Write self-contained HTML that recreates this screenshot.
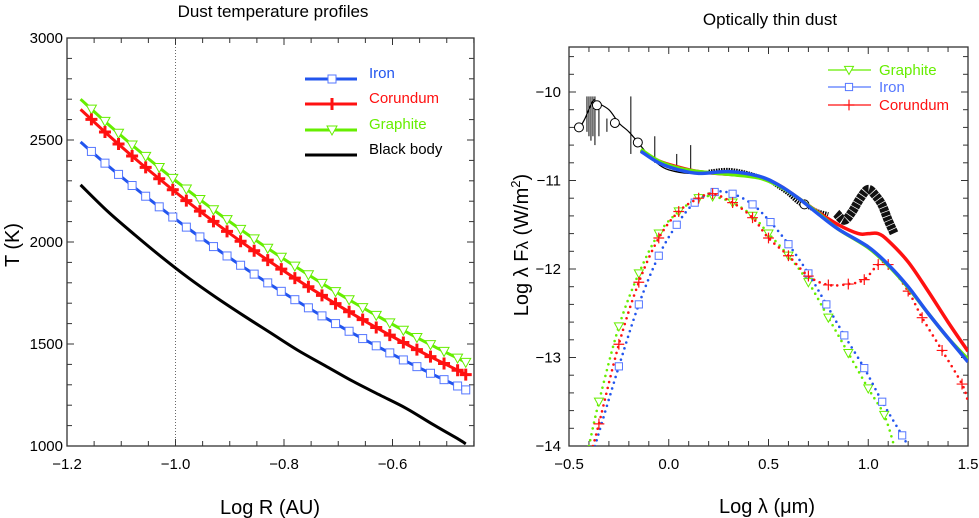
<!DOCTYPE html>
<html><head><meta charset="utf-8">
<style>
body{margin:0;background:#fff;}
svg{display:block;font-family:"Liberation Sans",Arial,sans-serif;}
</style></head>
<body>
<svg id="c" width="979" height="518" viewBox="0 0 979 518" xmlns="http://www.w3.org/2000/svg">
<text x="273" y="17" text-anchor="middle" font-size="17">Dust temperature profiles</text>
<text x="770" y="25" text-anchor="middle" font-size="17">Optically thin dust</text>
<text x="270" y="514" text-anchor="middle" font-size="20">Log R (AU)</text>
<text transform="translate(19,245) rotate(-90)" text-anchor="middle" font-size="20">T (K)</text>
<text x="767" y="513" text-anchor="middle" font-size="20">Log λ (μm)</text>
<text transform="translate(528,245) rotate(-90)" text-anchor="middle" font-size="20">Log λ F<tspan font-size="17">λ</tspan> (W/m<tspan dy="-8" font-size="13">2</tspan><tspan dy="8">)</tspan></text>
<g id="L"></g>
<g id="R"></g>
</svg>
<script>
// ---------- LEFT CHART DATA ----------
const logR = [-1.175,-1.125,-1.075,-1.025,-0.975,-0.925,-0.875,-0.825,-0.775,-0.725,-0.675,-0.625,-0.575,-0.525,-0.475,-0.465];
const tIron = [2490,2375,2266,2162,2063,1968,1877,1791,1709,1630,1555,1484,1415,1350,1288,1275];
const tCorundum = [2650,2527,2410,2299,2192,2091,1994,1902,1814,1730,1650,1573,1500,1431,1365,1350];
const tGraphite = [2700,2579,2464,2354,2249,2148,2052,1960,1873,1789,1709,1633,1560,1490,1424,1410];
const tBlack = [2280,2150,2035,1925,1822,1728,1640,1555,1470,1395,1320,1252,1185,1105,1028,1010];
const leftXTicks = [-1.2,-1.0,-0.8,-0.6];
const leftXTickLabels = ["−1.2","−1.0","−0.8","−0.6"];
const leftYTicks = [1000,1500,2000,2500,3000];
const leftYTickLabels = ["1000","1500","2000","2500","3000"];

// ---------- RIGHT CHART DATA ----------
const blueModelX = [-0.14,-0.05,0.05,0.15,0.3,0.45,0.55,0.65,0.75,0.85,1.0,1.1,1.2,1.3,1.4,1.5];
const blueModelY = [-10.67,-10.8,-10.88,-10.92,-10.9,-10.95,-11.05,-11.2,-11.38,-11.55,-11.75,-11.95,-12.2,-12.5,-12.78,-13.05];
const greenModelY = [-10.65,-10.78,-10.86,-10.9,-10.93,-10.97,-11.06,-11.2,-11.37,-11.55,-11.76,-11.96,-12.21,-12.5,-12.78,-13.02];
const redModelX = [-0.14,-0.05,0.05,0.15,0.3,0.45,0.55,0.65,0.75,0.85,0.95,1.0,1.05,1.1,1.2,1.3,1.4,1.5];
const redModelY = [-10.66,-10.78,-10.85,-10.9,-10.93,-10.96,-11.05,-11.2,-11.36,-11.5,-11.6,-11.6,-11.6,-11.68,-11.92,-12.25,-12.6,-12.93];
const greenDotX = [-0.4,-0.35,-0.25,-0.15,-0.05,0.05,0.15,0.22,0.32,0.42,0.5,0.6,0.7,0.8,0.9,1.0,1.08,1.13];
const greenDotY = [-14,-13.5,-12.65,-12.05,-11.6,-11.35,-11.2,-11.18,-11.25,-11.4,-11.6,-11.85,-12.15,-12.55,-12.95,-13.35,-13.65,-14];
const blueDotX = [-0.37,-0.25,-0.15,-0.05,0.04,0.13,0.23,0.32,0.42,0.51,0.6,0.7,0.79,0.88,0.98,1.07,1.17,1.2];
const blueDotY = [-14,-13.1,-12.4,-11.85,-11.5,-11.25,-11.13,-11.15,-11.27,-11.47,-11.72,-12.05,-12.4,-12.75,-13.12,-13.5,-13.88,-14];
const redDotX = [-0.38,-0.35,-0.25,-0.15,-0.05,0.05,0.15,0.22,0.32,0.42,0.5,0.6,0.7,0.8,0.9,0.98,1.05,1.1,1.2,1.27,1.37,1.47,1.5];
const redDotY = [-14,-13.75,-12.85,-12.15,-11.65,-11.35,-11.2,-11.15,-11.25,-11.42,-11.65,-11.85,-12.08,-12.18,-12.17,-12.12,-11.95,-11.95,-12.25,-12.55,-12.92,-13.3,-13.5];
const obsX = [-0.45,-0.42,-0.38,-0.36,-0.3,-0.25,-0.2,-0.15,-0.1,-0.05,0.0,0.1,0.2];
const obsY = [-10.42,-10.3,-10.1,-10.12,-10.2,-10.35,-10.45,-10.58,-10.72,-10.82,-10.88,-10.92,-10.9];
const noiseX = [0.2,0.3,0.4,0.5,0.55,0.6,0.65,0.7,0.75,0.8];
const noiseY = [-10.9,-10.88,-10.92,-11.0,-11.07,-11.15,-11.25,-11.3,-11.35,-11.38];
const photX = [-0.45,-0.36,-0.27,-0.155,0.68];
const photY = [-10.4,-10.15,-10.35,-10.57,-11.27];
const spikeX = [-0.41,-0.4,-0.39,-0.38,-0.37,-0.35,-0.31,-0.19,-0.07,0.04,0.11];
const spikeTop = [-10.05,-10.05,-10.05,-10.05,-10.05,-10.1,-10.3,-10.05,-10.5,-10.7,-10.6];
const spikeBot = [-10.45,-10.5,-10.55,-10.5,-10.6,-10.5,-10.45,-10.7,-10.8,-10.9,-10.92];
const bumpX = [0.84,0.88,0.92,0.96,1.0,1.04,1.07,1.1,1.13];
const bumpY = [-11.37,-11.45,-11.35,-11.2,-11.1,-11.18,-11.28,-11.45,-11.6];
const rightXTicks = [-0.5,0,0.5,1.0,1.5];
const rightXTickLabels = ["−0.5","0.0","0.5","1.0","1.5"];
const rightYTicks = [-14,-13,-12,-11,-10];
const rightYTickLabels = ["−14","−13","−12","−11","−10"];

const NS="http://www.w3.org/2000/svg";
function mk(parent,tag,attrs){const e=document.createElementNS(NS,tag);for(const k in attrs)e.setAttribute(k,attrs[k]);parent.appendChild(e);return e;}
function smooth(pts){let d='M'+pts[0][0]+' '+pts[0][1];
 for(let i=0;i<pts.length-1;i++){const p0=pts[i-1]||pts[i],p1=pts[i],p2=pts[i+1],p3=pts[i+2]||p2;
  d+=` C${p1[0]+(p2[0]-p0[0])/6} ${p1[1]+(p2[1]-p0[1])/6} ${p2[0]-(p3[0]-p1[0])/6} ${p2[1]-(p3[1]-p1[1])/6} ${p2[0]} ${p2[1]}`;}
 return d;}

// LEFT axes
const LX0=67,LX1=474,LY0=38,LY1=446;
const lx=v=>LX0+(v+1.2)/0.2*108.5;
const ly=v=>LY1-(v-1000)/2000*(LY1-LY0);
const L=document.getElementById('L');
let e;
e=mk(L,'rect',{x:LX0,y:LY0,width:LX1-LX0,height:LY1-LY0,fill:'none',stroke:'#333','stroke-width':1.3});


for(let i=0;i<=15;i++){const v=-1.2+i*0.05;const x=lx(v);const len=i%4===0?7:5;
 mk(L,'line',{x1:x,x2:x,y1:LY1,y2:LY1-len,stroke:'#333'});mk(L,'line',{x1:x,x2:x,y1:LY0,y2:LY0+len,stroke:'#333'});}
for(let v=1000;v<=3000;v+=100){const y=ly(v);const len=v%500===0?7:5;
 mk(L,'line',{x1:LX0,x2:LX0+len,y1:y,y2:y,stroke:'#333'});mk(L,'line',{x1:LX1,x2:LX1-len,y1:y,y2:y,stroke:'#333'});}
leftXTicks.forEach((v,i)=>{e=mk(L,'text',{x:lx(v),y:LY1+23,'text-anchor':'middle','font-size':15});e.textContent=leftXTickLabels[i];

});
leftYTicks.forEach((v,i)=>{e=mk(L,'text',{x:LX0-4,y:ly(v)+5,'text-anchor':'end','font-size':15});e.textContent=leftYTickLabels[i];

});
e=mk(L,'line',{x1:lx(-1.0),x2:lx(-1.0),y1:LY0,y2:LY1,stroke:'#444','stroke-width':0.8,'stroke-dasharray':'1 2'});



function lseries(ys,color,w,name,marker){
 const g=mk(L,'g',{});
 
 
 const pts=logR.map((x,i)=>[lx(x),ly(ys[i])]);
 mk(g,'path',{d:smooth(pts),fill:'none',stroke:color,'stroke-width':w});
 if(marker)for(let i=0;i<pts.length-2;i++){
   const a=pts[i],b=pts[i+1];
   drawMarker(g,marker,a[0]+(b[0]-a[0])*0.9,a[1]+(b[1]-a[1])*0.9,color,1);
   drawMarker(g,marker,a[0]+(b[0]-a[0])*0.4,a[1]+(b[1]-a[1])*0.4,color,1);
 }
 if(marker){const p=pts[pts.length-1];drawMarker(g,marker,p[0],p[1],color,1);}
}
function drawMarker(g,type,x,y,color,s){
 if(type==='sq')mk(g,'rect',{x:x-4*s,y:y-4*s,width:8*s,height:8*s,fill:'#fff',stroke:'#5577ff','stroke-width':1});
 else if(type==='plus'){mk(g,'path',{d:`M${x-6*s} ${y}H${x+6*s}M${x} ${y-6*s}V${y+6*s}`,stroke:color,'stroke-width':s>0.9?3:1.2});}
 else if(type==='tri')mk(g,'path',{d:`M${x-5*s} ${y-4*s}H${x+5*s}L${x} ${y+5*s}Z`,fill:'#fff',stroke:color,'stroke-width':1});
}
lseries(tBlack,'#000',3,'black-body-line',null);
lseries(tIron,'#2255ee',3,'iron-line','sq');
lseries(tGraphite,'#66ee00',3,'graphite-line','tri');
lseries(tCorundum,'#ff1111',3,'corundum-line','plus');
[['Iron','#2255ee','sq',79,'#2255ee'],['Corundum','#ff1111','plus',104,'#ff1111'],['Graphite','#66ee00','tri',130,'#66ee00'],['Black body','#000',null,155,'#000']].forEach(r=>{
 const g=mk(L,'g',{});
 
 
 mk(g,'line',{x1:305,x2:357,y1:r[3],y2:r[3],stroke:r[1],'stroke-width':3});
 if(r[2])drawMarker(g,r[2],332,r[3],r[1],1);
 const t=mk(g,'text',{x:369,y:r[3]-1,'font-size':15,fill:r[4]});t.textContent=r[0];
});

// RIGHT axes
const RX0=569,RX1=968,RY0=47,RY1=446;
const rx=v=>RX0+(v+0.5)*199.5;
const ry=v=>RY1-(v+14)*88.5;
const R=document.getElementById('R');
e=mk(R,'rect',{x:RX0,y:RY0,width:RX1-RX0,height:RY1-RY0,fill:'none',stroke:'#333','stroke-width':1.3});


for(let i=0;i<=20;i++){const x=rx(-0.5+i*0.1);const len=i%5===0?7:5;
 mk(R,'line',{x1:x,x2:x,y1:RY1,y2:RY1-len,stroke:'#333'});mk(R,'line',{x1:x,x2:x,y1:RY0,y2:RY0+len,stroke:'#333'});}
for(let i=0;i<=22;i++){const v=-14+i*0.2;const y=ry(v);if(y<RY0)break;const len=i%5===0?7:5;
 mk(R,'line',{x1:RX0,x2:RX0+len,y1:y,y2:y,stroke:'#333'});mk(R,'line',{x1:RX1,x2:RX1-len,y1:y,y2:y,stroke:'#333'});}
rightXTicks.forEach((v,i)=>{e=mk(R,'text',{x:rx(v),y:RY1+23,'text-anchor':'middle','font-size':15});e.textContent=rightXTickLabels[i];

});
rightYTicks.forEach((v,i)=>{e=mk(R,'text',{x:RX0-8,y:ry(v)+5,'text-anchor':'end','font-size':15});e.textContent=rightYTickLabels[i];

});

const clip=mk(R,'clipPath',{id:'rc'});mk(clip,'rect',{x:RX0,y:RY0,width:RX1-RX0,height:RY1-RY0});
const RG=mk(R,'g',{'clip-path':'url(#rc)'});
function pts(xs,ys){return xs.map((x,i)=>[rx(x),ry(ys[i])]);}
function sp(g,xs,ys,attrs){return mk(g,'path',Object.assign({d:smooth(pts(xs,ys)),fill:'none'},attrs));}
let og=mk(RG,'g',{});


sp(og,obsX,obsY,{stroke:'#000','stroke-width':1.2});
spikeX.forEach((x,i)=>mk(og,'line',{x1:rx(x),x2:rx(x),y1:ry(spikeTop[i]),y2:ry(spikeBot[i]),stroke:'#000','stroke-width':1}));
sp(og,noiseX,noiseY,{stroke:'#000','stroke-width':4,'stroke-dasharray':'1.5 1'});
let bg=mk(RG,'g',{});


sp(bg,bumpX,bumpY,{stroke:'#111','stroke-width':9,'stroke-dasharray':'4 0.7'});
photX.forEach((x,i)=>{const c=mk(RG,'circle',{cx:rx(x),cy:ry(photY[i]),r:4.5,fill:'#fff',stroke:'#000','stroke-width':1});

});
function dotted(xs,ys,color,marker,name){
 const g=mk(RG,'g',{});
 
 
 sp(g,xs,ys,{stroke:color,'stroke-width':2.6,'stroke-linecap':'round','stroke-dasharray':'0 6'});
 xs.forEach((x,i)=>{if(i===0||i===xs.length-1)return;drawMarker(g,marker,rx(x),ry(ys[i]),color,0.9);});
}
dotted(greenDotX,greenDotY,'#66ee00','tri','graphite-dotted-curve');
dotted(blueDotX,blueDotY,'#2255ee','sq','iron-dotted-curve');
dotted(redDotX,redDotY,'#ff1111','plus','corundum-dotted-curve');
let m=sp(RG,redModelX,redModelY,{stroke:'#ff1111','stroke-width':3.5});


m=sp(RG,blueModelX,greenModelY,{stroke:'#66ee00','stroke-width':3.5});


m=sp(RG,blueModelX,blueModelY,{stroke:'#2255ee','stroke-width':3.5});


[['Graphite','#66ee00','tri',70],['Iron','#5577ff','sq',87],['Corundum','#ff1111','plus',105]].forEach(r=>{
 const g=mk(R,'g',{});
 
 
 mk(g,'line',{x1:828,x2:871,y1:r[3],y2:r[3],stroke:r[1],'stroke-width':1.2});
 drawMarker(g,r[2],849,r[3],r[1],0.9);
 const t=mk(g,'text',{x:879,y:r[3]+5,'font-size':15,fill:r[1]});t.textContent=r[0];
});
</script>
</body></html>
